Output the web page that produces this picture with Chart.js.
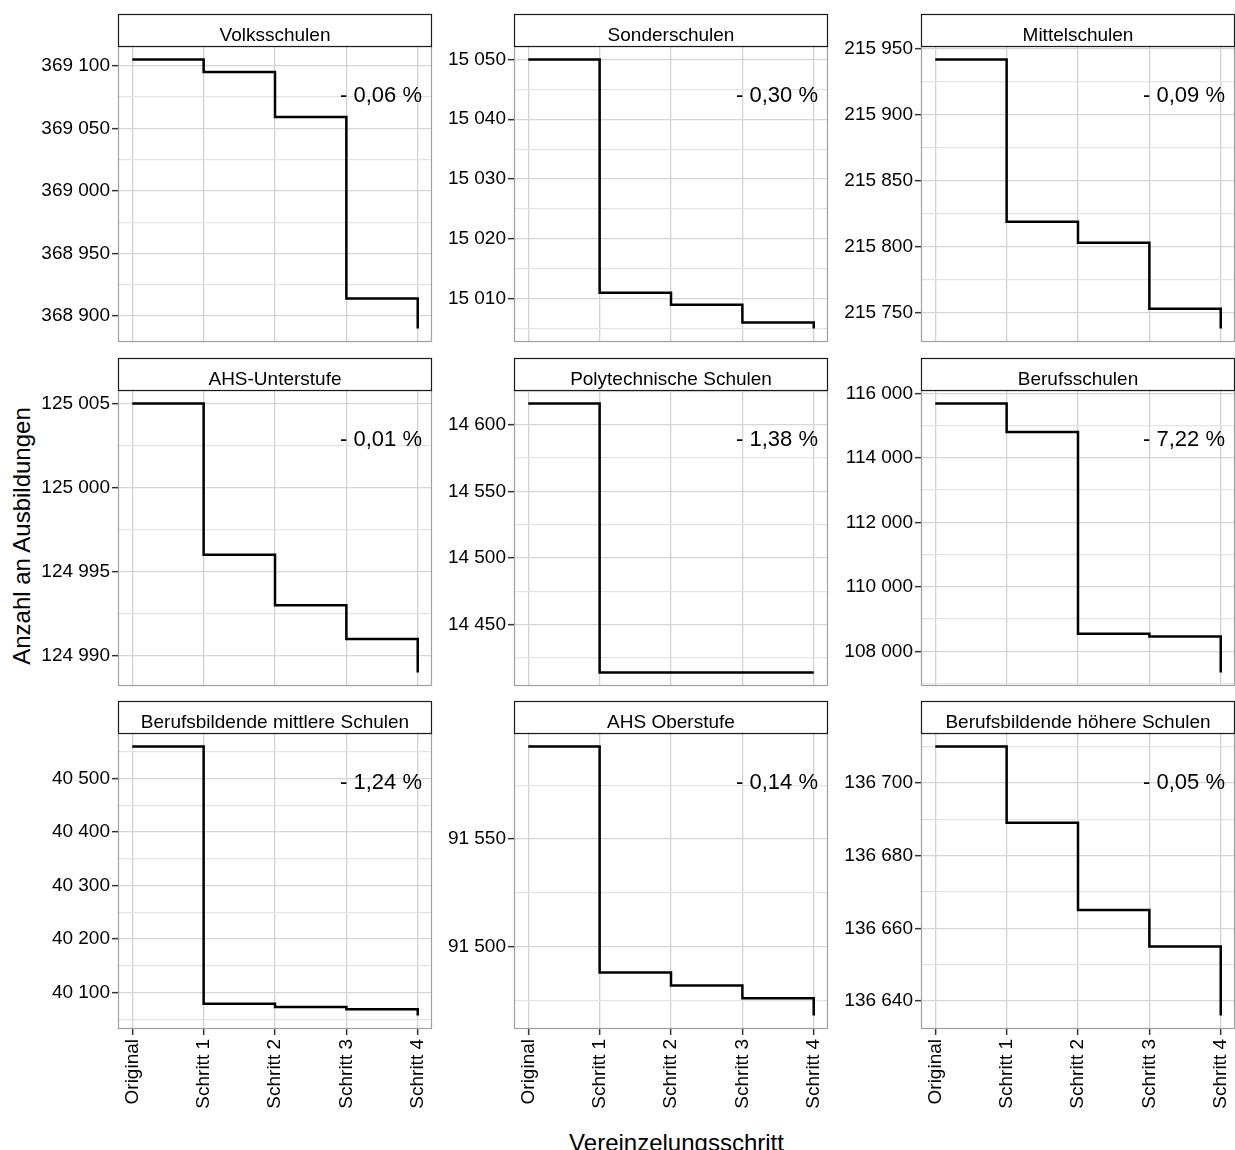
<!DOCTYPE html>
<html>
<head>
<meta charset="utf-8">
<script src="https://cdn.jsdelivr.net/npm/chart.js@4.4.1/dist/chart.umd.min.js"></script>
<style>
  html, body { margin: 0; padding: 0; background: #fff; overflow: hidden; }
  body { width: 1235px; height: 1150px; position: relative; font-family: "Liberation Sans", Arial, sans-serif; }
  canvas { position: absolute; }
  .achse { position: absolute; font-size: 24px; line-height: 24px; height: 24px; color: #000; text-align: center; white-space: nowrap; }
</style>
</head>
<body>
<div class="achse" style="left:118px; top:1131px; width:1117px;">Vereinzelungsschritt</div>
<div class="achse" style="left:-178px; top:524px; width:400px; transform:rotate(-90deg);">Anzahl an Ausbildungen</div>
<script>
// Daten
const schritte = ['Original', 'Schritt 1', 'Schritt 2', 'Schritt 3', 'Schritt 4'];
const schulen = ['Volksschulen', 'Sonderschulen', 'Mittelschulen',
                 'AHS-Unterstufe', 'Polytechnische Schulen', 'Berufsschulen',
                 'Berufsbildende mittlere Schulen', 'AHS Oberstufe', 'Berufsbildende höhere Schulen'];

const volksschulen = [369105, 369095, 369059, 368914, 368890];
const sonderschulen = [15050, 15011, 15009, 15006, 15005];
const mittelschulen = [215942, 215819, 215803, 215753, 215738];
const ahsUnterstufe = [125005, 124996, 124993, 124991, 124989];
const polytechnische = [14616, 14414, 14414, 14414, 14414];
const berufsschulen = [115690, 114806, 108544, 108462, 107340];
const bms = [40560, 40079, 40073, 40069, 40057];
const ahsOberstufe = [91593, 91488, 91482, 91476, 91468];
const bhs = [136710, 136689, 136665, 136655, 136636];

const prozente = ['- 0,06 %', '- 0,30 %', '- 0,09 %', '- 0,01 %', '- 1,38 %', '- 7,22 %', '- 1,24 %', '- 0,14 %', '- 0,05 %'];

const ticksVolks = [368900, 368950, 369000, 369050, 369100];
const ticksSonder = [15010, 15020, 15030, 15040, 15050];
const ticksMittel = [215750, 215800, 215850, 215900, 215950];
const ticksAhsU = [124990, 124995, 125000, 125005];
const ticksPoly = [14450, 14500, 14550, 14600];
const ticksBerufs = [108000, 110000, 112000, 114000, 116000];
const ticksBms = [40100, 40200, 40300, 40400, 40500];
const ticksAhsO = [91500, 91550];
const ticksBhs = [136640, 136660, 136680, 136700];

const werte = [volksschulen, sonderschulen, mittelschulen, ahsUnterstufe, polytechnische, berufsschulen, bms, ahsOberstufe, bhs];
const yTicks = [ticksVolks, ticksSonder, ticksMittel, ticksAhsU, ticksPoly, ticksBerufs, ticksBms, ticksAhsO, ticksBhs];

// Layout
const links = [118, 514, 921];
const oben = [46, 390, 733];
const breite = 314;
const hoehe = 296;
const yBreite = 84;
const rechts = 24;
const streifen = 32;

Chart.defaults.font.family = '"Liberation Sans", Arial, sans-serif';
Chart.defaults.color = '#000';

const fmt = v => String(v).replace(/\B(?=(\d{3})+(?!\d))/g, ' ');

function panel(i) {
    const spalte = i % 3;
    const zeile = Math.floor(i / 3);
    const unten = zeile === 2;

    const canvas = document.createElement('canvas');
    canvas.width = yBreite + breite + rechts;
    canvas.height = streifen + 14 + hoehe + (unten ? 100 : 14);
    canvas.style.left = (links[spalte] - yBreite) + 'px';
    canvas.style.top = (oben[zeile] - streifen - 14) + 'px';
    document.body.appendChild(canvas);

    const vals = werte[i];
    const hi = Math.max(...vals);
    const lo = Math.min(...vals);
    const pad = (hi - lo) * 0.05;
    const majors = yTicks[i];
    const step = majors[1] - majors[0];
    const alle = [];
    majors.forEach(v => alle.push(v - step / 2, v));
    alle.push(majors[majors.length - 1] + step / 2);
    const yWerte = alle.filter(v => v >= lo - pad && v <= hi + pad);
    const istMajor = c => c.tick && majors.includes(c.tick.value);

    const rahmen = {
        id: 'rahmen' + i,
        afterDraw(chart) {
            const ctx = chart.ctx;
            const a = chart.chartArea;
            ctx.save();
            // Panelrahmen
            ctx.strokeStyle = '#a0a0a0';
            ctx.lineWidth = 1.2;
            ctx.strokeRect(a.left + 0.5, a.top + 0.5, a.right - a.left - 1, a.bottom - a.top - 1);
            // Streifen
            ctx.fillStyle = '#fff';
            ctx.fillRect(a.left, a.top - streifen, a.right - a.left, streifen);
            ctx.strokeStyle = '#1a1a1a';
            ctx.strokeRect(a.left + 0.5, a.top - streifen + 0.5, a.right - a.left - 1, streifen);
            ctx.fillStyle = '#000';
            ctx.font = '19px "Liberation Sans", Arial, sans-serif';
            ctx.textAlign = 'center';
            ctx.textBaseline = 'alphabetic';
            ctx.fillText(schulen[i], (a.left + a.right) / 2, a.top - 5);
            // Prozentangabe
            ctx.font = '22px "Liberation Sans", Arial, sans-serif';
            ctx.textAlign = 'right';
            ctx.fillText(prozente[i], a.right - 10, a.top + 56);
            ctx.restore();
        }
    };

    new Chart(canvas, {
        type: 'line',
        data: {
            datasets: [{
                data: vals.map((v, k) => ({ x: k, y: v })),
                stepped: true,
                borderColor: '#000',
                borderWidth: 2.5,
                pointRadius: 0,
                fill: false
            }]
        },
        options: {
            responsive: false,
            animation: false,
            layout: { padding: { left: 0, top: streifen + 14, right: rechts, bottom: unten ? 0 : 14 } },
            plugins: {
                legend: { display: false },
                tooltip: { enabled: false }
            },
            scales: {
                x: {
                    type: 'linear',
                    min: -0.2,
                    max: 4.2,
                    afterBuildTicks: s => { s.ticks = schritte.map((_, k) => ({ value: k })); },
                    afterFit: s => { s.height = unten ? 100 : 0; },
                    ticks: {
                        display: unten,
                        autoSkip: false,
                        minRotation: 90,
                        maxRotation: 90,
                        padding: 4,
                        color: '#000',
                        font: { size: 19 },
                        callback: v => schritte[v]
                    },
                    grid: { color: '#d2d2d2', lineWidth: 1.3, drawTicks: unten, tickLength: 6, tickColor: '#333', tickWidth: 1.5 },
                    border: { display: false }
                },
                y: {
                    min: lo - pad,
                    max: hi + pad,
                    afterBuildTicks: s => { s.ticks = yWerte.map(v => ({ value: v })); },
                    afterFit: s => { s.width = yBreite; },
                    ticks: {
                        autoSkip: false,
                        padding: 2,
                        color: '#000',
                        font: { size: 19 },
                        callback: v => majors.includes(v) ? fmt(v) : ''
                    },
                    grid: {
                        color: c => istMajor(c) ? '#d6d6d6' : '#e4e4e4',
                        lineWidth: 1.3,
                        tickLength: 6,
                        tickWidth: 1.5,
                        tickColor: c => istMajor(c) ? '#333' : 'rgba(0,0,0,0)'
                    },
                    border: { display: false }
                }
            }
        },
        plugins: [rahmen]
    });
}

for (let i = 0; i < 9; i++) panel(i);
</script>
</body>
</html>
